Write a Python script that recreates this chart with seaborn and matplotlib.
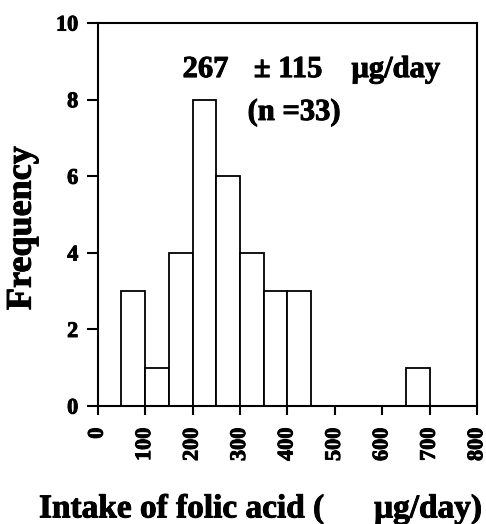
import numpy as np
import pandas as pd
import matplotlib
matplotlib.use("Agg")
import matplotlib.pyplot as plt
import matplotlib.patheffects as pe
import seaborn as sns

# Data
bin_edges = list(range(0, 850, 50))
bin_counts = [0, 3, 1, 4, 8, 6, 4, 3, 3, 0, 0, 0, 0, 1, 0, 0]
x_ticks = [0, 100, 200, 300, 400, 500, 600, 700, 800]
y_ticks = [0, 2, 4, 6, 8, 10]
annot_mean = "267"
annot_sd = "± 115"
annot_unit = "μg/day"
annot_n = "(n =33)"
x_label = "Intake of folic acid (      μg/day)"
y_label = "Frequency"

sns.set_style("ticks")
plt.rcParams["font.family"] = ["Liberation Serif", "DejaVu Serif"]
plt.rcParams["font.weight"] = "bold"
for k in ["text.color", "axes.labelcolor", "xtick.color", "ytick.color", "axes.edgecolor"]:
    plt.rcParams[k] = "black"

heavy = [pe.withStroke(linewidth=0.7, foreground="black")]

bin_centers = [(bin_edges[i] + bin_edges[i + 1]) / 2 for i in range(len(bin_counts))]
df = pd.DataFrame({"intake": bin_centers, "count": bin_counts})

fig = plt.figure(figsize=(4.86, 5.24), dpi=100)
ax = fig.add_axes([0.201, 0.225, 0.781, 0.731])

sns.histplot(data=df, x="intake", weights="count", bins=bin_edges,
             color="white", edgecolor="black", linewidth=1.3, alpha=1, ax=ax)

ax.set_xlim(0, 800)
ax.set_ylim(0, 10)
ax.set_xticks(x_ticks)
ax.set_yticks(y_ticks)
ax.set_xticklabels([str(v) for v in x_ticks], rotation=90, fontsize=16, fontweight="bold")
ax.set_yticklabels([str(v) for v in y_ticks], fontsize=16, fontweight="bold")
for t in ax.get_xticklabels() + ax.get_yticklabels():
    t.set_path_effects(heavy)

for s in ax.spines.values():
    s.set_visible(True)
    s.set_linewidth(1.5)
    s.set_color("black")

ax.tick_params(axis="y", direction="out", length=8, width=1.5, pad=6, colors="black")
ax.tick_params(axis="x", direction="out", length=6.5, width=1.5, pad=9, colors="black")

ax.set_xlabel(x_label, fontsize=24, fontweight="bold", path_effects=heavy)
ax.xaxis.set_label_coords(0.431, -0.228)
ax.xaxis.label.set_va("top")
ax.set_ylabel(y_label, fontsize=26, fontweight="bold", path_effects=heavy)
ax.yaxis.label.set_va("center")
ax.yaxis.set_label_coords(-0.199, 0.465)

txt_kw = dict(fontsize=22, fontweight="bold", ha="left", va="baseline", path_effects=heavy)
ax.text(179, 8.59, annot_mean, **txt_kw)
ax.text(329, 8.59, annot_sd, **txt_kw)
ax.text(535, 8.59, annot_unit, **txt_kw)
ax.text(316, 7.47, annot_n, **txt_kw)

fig.savefig("out.png", dpi=100)
